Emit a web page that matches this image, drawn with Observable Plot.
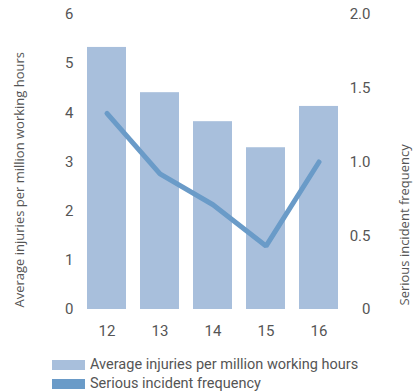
<!DOCTYPE html>
<html>
<head>
<meta charset="utf-8">
<script src="https://cdn.jsdelivr.net/npm/d3@7"></script>
<script src="https://cdn.jsdelivr.net/npm/@observablehq/plot@0.6"></script>
<style>
  html, body { margin: 0; padding: 0; background: #fff; }
  #chart { width: 416px; }
  .legend { padding-left: 52px; margin-top: 3px; font-family: Roboto, sans-serif; font-size: 14.5px; color: #555; }
  .legend .row { display: flex; align-items: center; height: 19px; white-space: nowrap; }
  .legend .sw { width: 33px; height: 10px; margin-right: 5px; flex: none; }
</style>
</head>
<body>
<div id="chart"></div>
<script>
// Years shown on the x axis
const years = ["12", "13", "14", "15", "16"];
// Average injuries per million working hours (left axis)
const injuries = [5.33, 4.41, 3.82, 3.29, 4.13];
// Serious incident frequency (right axis)
const frequency = [1.33, 0.92, 0.71, 0.43, 1.00];
// Tick values for both axes
const leftTicks = [0, 1, 2, 3, 4, 5, 6];
const rightTicks = [0, 0.5, 1.0, 1.5, 2.0];

const barColor = "#a8bfdc";
const lineColor = "#6a9bc8";
const injuriesLabel = "Average injuries per million working hours";
const frequencyLabel = "Serious incident frequency";

// right axis (0–2.0) shares the left scale (0–6)
const ratio = 6 / 2;

const rows = years.map((year, i) => ({year, injuries: injuries[i], frequency: frequency[i]}));

const chart = Plot.plot({
  width: 416,
  height: 352,
  marginTop: 14,
  marginBottom: 43,
  marginLeft: 71,
  marginRight: 63,
  style: {fontFamily: "Roboto, sans-serif", fontSize: "15px", color: "#555", background: "#fff"},
  x: {domain: years, padding: 0.27, label: null},
  y: {domain: [0, 6], label: null},
  marks: [
    Plot.barY(rows, {x: "year", y: "injuries", fill: barColor}),
    Plot.lineY(rows, {x: "year", y: d => d.frequency * ratio, stroke: lineColor, strokeWidth: 5, strokeLinejoin: "miter"}),
    Plot.axisX({tickSize: 0, tickPadding: 16, label: null}),
    Plot.axisY({ticks: leftTicks, tickFormat: d => String(d), tickSize: 0, tickPadding: -2, label: null}),
    Plot.axisY({
      anchor: "right",
      ticks: rightTicks.map(v => v * ratio),
      tickFormat: v => { const r = v / ratio; return r === 0 ? "0" : r.toFixed(1); },
      tickSize: 0,
      tickPadding: 17,
      textAnchor: "end",
      label: null
    }),
    Plot.text([injuriesLabel], {
      frameAnchor: "bottom-left", text: d => d, rotate: -90, textAnchor: "start",
      dx: -48, dy: -2, fontFamily: "Open Sans, sans-serif", fontSize: 13, fill: "#555"
    }),
    Plot.text([frequencyLabel], {
      frameAnchor: "bottom-right", text: d => d, rotate: -90, textAnchor: "start",
      dx: 55, dy: -4, fontFamily: "Open Sans, sans-serif", fontSize: 13, fill: "#555"
    })
  ]
});

document.getElementById("chart").append(chart);

// Legend below the chart
const legend = d3.select("#chart").append("div").attr("class", "legend");
[[barColor, injuriesLabel], [lineColor, frequencyLabel]].forEach(([color, label]) => {
  const row = legend.append("div").attr("class", "row");
  row.append("span").attr("class", "sw").style("background", color);
  row.append("span").text(label);
});
</script>
</body>
</html>
